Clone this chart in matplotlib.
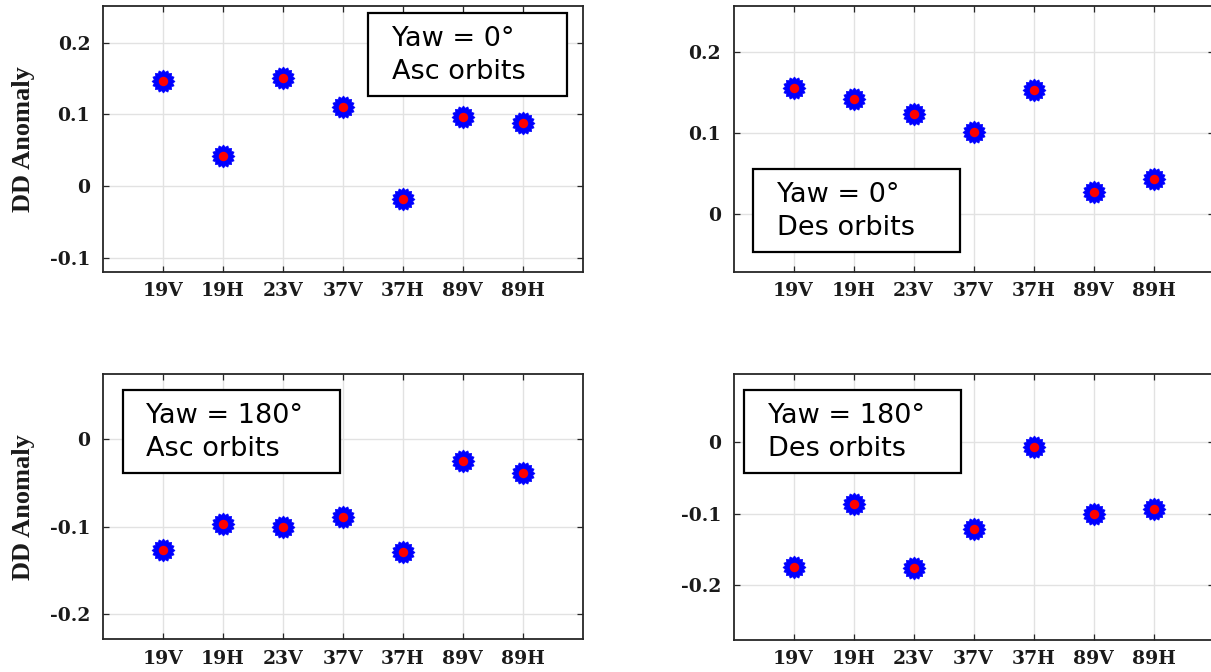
import numpy as np
import matplotlib
matplotlib.use("Agg")
import matplotlib.pyplot as plt
from matplotlib.path import Path
from matplotlib.patches import Rectangle

# Channels and DD anomaly values per yaw / orbit direction
channels = ["19V", "19H", "23V", "37V", "37H", "89V", "89H"]
asc_yaw0 = [0.146, 0.042, 0.151, 0.110, -0.018, 0.096, 0.088]
des_yaw0 = [0.156, 0.142, 0.124, 0.101, 0.153, 0.028, 0.043]
asc_yaw180 = [-0.127, -0.097, -0.100, -0.089, -0.129, -0.025, -0.038]
des_yaw180 = [-0.175, -0.086, -0.176, -0.122, -0.007, -0.100, -0.094]

W, H = 1211, 672
DPI = 100
fig = plt.figure(figsize=(W / DPI, H / DPI), dpi=DPI)

TICKFONT = ["DejaVu Serif"]
LABELFONT = ["Liberation Serif", "DejaVu Serif"]
BOXFONT = ["DejaVu Sans"]
AXC = "#262626"


def px_rect(x0, y0, x1, y1):
    """Pixel box (top-left origin) -> figure fraction [l, b, w, h]."""
    return [x0 / W, 1 - y1 / H, (x1 - x0) / W, (y1 - y0) / H]


# Serrated disc used as the blue marker
n_teeth = 16
ang = np.linspace(0, 2 * np.pi, 2 * n_teeth, endpoint=False)
rad = np.where(np.arange(2 * n_teeth) % 2 == 0, 1.0, 0.82)
verts = np.column_stack([rad * np.cos(ang), rad * np.sin(ang)])
verts = np.vstack([verts, verts[:1]])
codes = [Path.MOVETO] + [Path.LINETO] * (2 * n_teeth - 1) + [Path.CLOSEPOLY]
burst = Path(verts, codes)

panels = [
    dict(vals=asc_yaw0, rect=(102.7, 6, 582.7, 271.7), ylim=(-0.119, 0.251),
         yticks=[-0.1, 0, 0.1, 0.2], ylabel=True,
         box=(368, 13, 567, 96), tx=392, base=(46, 79),
         lines=("Yaw = 0°", "Asc orbits")),
    dict(vals=des_yaw0, rect=(733.5, 6, 1213.5, 271.7), ylim=(-0.071, 0.257),
         yticks=[0, 0.1, 0.2], ylabel=False,
         box=(753, 169, 960, 252), tx=777, base=(202, 235),
         lines=("Yaw = 0°", "Des orbits")),
    dict(vals=asc_yaw180, rect=(102.7, 374, 582.7, 639.3), ylim=(-0.229, 0.075),
         yticks=[-0.2, -0.1, 0], ylabel=True,
         box=(122.5, 390, 340, 473), tx=146.5, base=(423, 456),
         lines=("Yaw = 180°", "Asc orbits")),
    dict(vals=des_yaw180, rect=(733.5, 374.3, 1213.5, 640), ylim=(-0.277, 0.095),
         yticks=[-0.2, -0.1, 0], ylabel=False,
         box=(744, 390, 960.5, 473), tx=768.5, base=(423, 456),
         lines=("Yaw = 180°", "Des orbits")),
]

x = np.arange(1, len(channels) + 1)

for p in panels:
    ax = fig.add_axes(px_rect(*p["rect"]))
    ax.set_axisbelow(True)
    ax.plot(x, p["vals"], ls="none", marker=burst, ms=16.5,
            color="#0000ff", mec="#0000ff", mew=0.5, zorder=3)
    ax.plot(x, p["vals"], ls="none", marker="o", ms=6.8,
            color="#ff0000", mec="none", zorder=4)

    ax.set_xlim(0, len(channels) + 1)
    ax.set_ylim(*p["ylim"])
    ax.set_xticks(x)
    ax.set_xticklabels(channels)
    ax.set_yticks(p["yticks"])
    ax.set_yticklabels([f"{v:g}" for v in p["yticks"]])
    for lab in ax.get_xticklabels() + ax.get_yticklabels():
        lab.set_family(TICKFONT)
        lab.set_fontweight("bold")
        lab.set_fontsize(13.5)
        lab.set_color("#1a1a1a")

    ax.grid(True, color="#e2e2e2", lw=1.0)
    ax.tick_params(axis="both", direction="in", length=4, width=0.9,
                   color=AXC, top=True, right=True)
    ax.tick_params(axis="x", pad=7.5)
    ax.tick_params(axis="y", pad=9)
    for s in ax.spines.values():
        s.set_color(AXC)
        s.set_linewidth(1.3)

    if p["ylabel"]:
        ax.set_ylabel("DD Anomaly", family=LABELFONT, fontweight="bold",
                      fontsize=19, color="#1a1a1a", va="center")
        ax.yaxis.set_label_coords(-0.166, 0.5)

    bx0, by0, bx1, by1 = p["box"]
    l, b, w, h = px_rect(bx0, by0, bx1, by1)
    fig.add_artist(Rectangle((l, b), w, h, transform=fig.transFigure,
                             facecolor="white", edgecolor="black",
                             lw=1.6, zorder=5))
    for line, yb in zip(p["lines"], p["base"]):
        fig.text(p["tx"] / W, 1 - yb / H, line, family=BOXFONT, fontsize=19.5,
                 ha="left", va="baseline", color="black", zorder=6)

fig.savefig("out.png", dpi=DPI, facecolor="white")
